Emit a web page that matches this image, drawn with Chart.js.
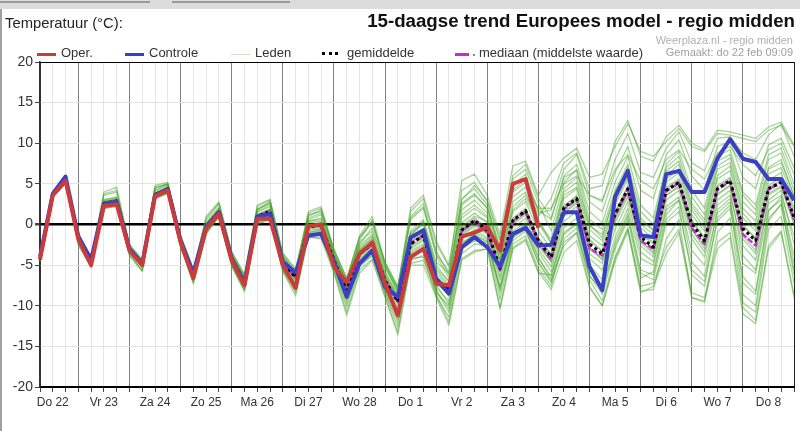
<!DOCTYPE html>
<html>
<head>
<meta charset="utf-8">
<script src="https://cdn.jsdelivr.net/npm/chart.js@4.4.1/dist/chart.umd.min.js"></script>
<style>
  body { margin: 0; background: #fff; font-family: Arial, "Liberation Sans", sans-serif; }
  #wrap { position: relative; width: 800px; height: 431px; overflow: hidden; background: #fff; }
  #chart { position: absolute; left: 0; top: 0; }
  .txt { position: absolute; white-space: nowrap; color: #222; }
  .topbar { position: absolute; left: 0; top: 0; width: 800px; height: 9px; background: #dcdcdc; }
  .tab { position: absolute; top: 1px; height: 2px; background: #9a9a9a; }
  .edge { position: absolute; left: 0; top: 9px; width: 2px; height: 422px; background: #a0a0a0; }
  .leg { position: absolute; top: 45px; font-size: 13px; color: #333; white-space: nowrap; }
  .sw { position: absolute; top: 8px; }
</style>
</head>
<body>
<div id="wrap">
  <canvas id="chart" width="800" height="431"></canvas>
  <div class="topbar"></div>
  <div class="tab" style="left:0;width:150px"></div>
  <div class="tab" style="left:172px;width:118px"></div>
  <div class="edge"></div>
  <div class="txt" style="left:5px;top:15px;font-size:14.8px;">Temperatuur (°C):</div>
  <div class="txt" style="right:5px;top:10px;font-size:18.7px;font-weight:bold;color:#111;">15-daagse trend Europees model - regio midden</div>
  <div class="txt" style="right:7px;top:34px;font-size:11px;color:#b0b0b0;">Weerplaza.nl - regio midden</div>
  <div class="txt" style="right:7px;top:46px;font-size:11px;color:#a0a0a0;">Gemaakt: do 22 feb 09:09</div>

  <div class="leg" style="left:37px"><span class="sw" style="left:0;width:19px;border-top:3px solid #cc3b3b"></span><span style="margin-left:24px">Oper.</span></div>
  <div class="leg" style="left:125px"><span class="sw" style="left:0;width:19px;border-top:3px solid #3a3fc4"></span><span style="margin-left:24px">Controle</span></div>
  <div class="leg" style="left:231px"><span class="sw" style="left:0;top:9px;width:19px;border-top:1px solid #c9e3bd"></span><span style="margin-left:24px">Leden</span></div>
  <div class="leg" style="left:322px"><span class="sw" style="left:0;top:7px;width:16px;border-top:3px dotted #000"></span><span style="margin-left:25px">gemiddelde</span></div>
  <div class="leg" style="left:455px"><span class="sw" style="left:0;width:14px;border-top:3px solid #c42ed0"></span><span class="sw" style="left:18px;top:9px;width:2px;height:2px;background:#888"></span><span style="margin-left:24px">mediaan (middelste waarde)</span></div>
</div>
<script>
// day names, one per calendar day shown on the x axis
const dayNames = ["Do 22", "Vr 23", "Za 24", "Zo 25", "Ma 26", "Di 27", "Wo 28", "Do 1",
  "Vr 2", "Za 3", "Zo 4", "Ma 5", "Di 6", "Wo 7", "Do 8", "Vr 9"];
const hours = ["00", "06", "12", "18"];
const yTicks = [-20, -15, -10, -5, 0, 5, 10, 15, 20];

// operational run (10 days only)
const oper = [-4.3, 3.6, 5.4, -1.8, -5.0, 2.3, 2.5, -3.2, -5.0, 3.5,
  4.2, -2.2, -6.6, -0.5, 1.3, -4.4, -7.5, 0.7, 0.7, -5.0,
  -7.8, -0.2, 0.0, -5.2, -7.1, -3.6, -2.2, -7.3, -11.2, -4.0,
  -3.0, -7.3, -7.5, -1.5, -1.0, -0.3, -3.2, 5.0, 5.6, -0.4];

// control run
const controle = [-4.0, 3.8, 5.9, -1.5, -4.3, 2.5, 2.8, -3.0, -4.8, 3.6,
  4.4, -2.0, -6.0, -0.3, 1.5, -4.2, -7.2, 1.0, 1.3, -4.6,
  -5.9, -1.35, -1.15, -4.6, -8.9, -4.8, -3.2, -7.7, -8.9, -1.6,
  -0.7, -6.7, -8.5, -2.8, -1.55, -2.8, -5.2, -1.15, -0.4, -2.6,
  -2.5, 1.5, 1.5, -5.2, -8.1, 3.4, 6.6, -1.35, -1.55, 6.2,
  6.6, 4.0, 4.0, 8.1, 10.5, 8.1, 7.7, 5.6, 5.6, 3.0];

// ensemble mean
const gemiddelde = [-4.3, 3.6, 5.3, -1.5, -4.6, 2.6, 2.9, -3.0, -4.9, 3.7,
  4.4, -2.0, -6.2, -0.3, 1.6, -4.2, -7.1, 1.0, 1.6, -4.7,
  -6.5, -0.3, -0.1, -4.4, -8.1, -3.6, -2.4, -6.9, -9.5, -2.4,
  -1.35, -6.7, -8.1, -0.7, 0.5, -0.7, -5.4, 0.5, 1.7, -2.0,
  -4.0, 2.1, 3.2, -2.4, -3.6, 1.3, 4.4, -1.55, -2.8, 4.2,
  5.2, 0.1, -2.0, 4.4, 5.4, -0.5, -2.0, 4.4, 5.2, 0.9];

// ensemble median
const mediaan = [-4.3, 3.6, 5.3, -1.5, -4.6, 2.6, 2.9, -3.0, -4.9, 3.7,
  4.4, -2.0, -6.2, -0.3, 1.6, -4.2, -7.1, 1.0, 1.6, -4.7,
  -6.5, -0.3, -0.1, -4.4, -8.1, -3.6, -2.4, -6.9, -9.5, -2.4,
  -1.4, -6.8, -8.2, -0.8, 0.4, -1.0, -5.6, 0.4, 1.6, -2.2,
  -4.3, 1.9, 3.1, -3.0, -3.8, 1.1, 4.3, -2.0, -3.0, 4.1,
  5.1, -0.4, -2.4, 4.3, 5.3, -1.2, -2.6, 4.3, 5.2, 0.6];

// ensemble members (leden)
const leden = [
  [-4.4, 3.5, 5.2, -1.7, -4.8, 2.4, 2.6, -3.2, -5.1, 3.5, 4.2, -2.2, -6.5, -0.6, 1.3, -4.6, -7.5, 0.6, 1.2, -5.2,
   -7.2, -0.9, -0.8, -5.0, -9.0, -4.4, -3.1, -7.6, -10.6, -3.2, -2.4, -7.8, -9.4, -1.8, -0.6, -1.6, -6.8, -0.8, 0.2, -3.4,
   -5.8, 0.4, 1.6, -4.2, -5.6, -0.6, 2.8, -3.4, -4.6, 2.2, 3.4, -1.8, -4.0, 2.4, 3.6, -2.6, -4.4, 2.6, 3.6, -1.4],
  [-4.2, 3.7, 5.4, -1.2, -4.3, 3.0, 3.3, -2.7, -4.6, 4.4, 5.0, -1.6, -5.8, 0.1, 2.0, -3.8, -6.6, 1.6, 2.4, -4.0,
   -5.8, 0.6, 1.2, -3.6, -7.0, -2.2, -0.8, -5.4, -8.0, -0.8, 0.6, -4.6, -6.0, 2.4, 3.6, 2.0, -2.6, 4.2, 5.6, 1.8,
   0.6, 6.0, 7.4, 2.8, 1.6, 6.4, 9.6, 4.2, 3.2, 8.6, 10.4, 6.0, 4.2, 9.6, 10.2, 5.8, 4.4, 9.8, 10.6, 7.0],
  [-4.4, 3.4, 5.1, -2.0, -5.0, 2.2, 2.4, -3.4, -5.3, 3.3, 4.0, -2.4, -6.8, -0.9, 1.0, -4.9, -7.8, 0.3, 0.8, -5.5,
   -7.8, -1.3, -1.2, -5.6, -10.2, -5.2, -3.8, -8.4, -12.6, -4.4, -3.8, -8.8, -11.4, -3.6, -2.4, -2.6, -9.2, -2.4, -1.4, -5.4,
   -7.6, -1.8, -0.4, -6.8, -9.4, -4.0, -0.4, -7.6, -7.2, -2.8, -0.6, -8.4, -9.0, -2.2, -1.0, -10.2, -11.8, -2.6, -0.8, -8.6],
  [-4.3, 3.6, 5.3, -1.4, -4.5, 2.8, 3.1, -2.9, -4.8, 3.9, 4.6, -1.8, -6.0, 0.0, 1.8, -4.0, -6.8, 1.8, 2.8, -4.4,
   -6.2, 1.0, 1.8, -3.2, -6.6, -1.6, 0.4, -4.8, -7.8, 1.6, 3.2, -2.4, -5.2, 5.4, 6.2, 3.6, -1.2, 7.2, 7.8, 3.6,
   6.4, 8.2, 9.4, 5.8, 6.2, 9.6, 12.4, 9.0, 8.4, 10.2, 11.8, 9.6, 9.0, 11.2, 11.0, 10.6, 10.2, 11.6, 12.2, 9.6],
  [-4.2, 3.6, 5.3, -1.3, -4.5, 2.9, 3.2, -2.8, -4.7, 3.8, 4.5, -1.9, -6.1, -0.1, 1.8, -3.9, -6.9, 1.2, 1.9, -4.3,
   -6.4, 0.2, 0.4, -4.0, -7.6, -3.0, -1.8, -6.2, -9.0, -1.8, -0.8, -6.0, -7.6, 0.2, 1.4, 0.2, -4.6, 1.6, 2.8, -0.8,
   -3.0, 3.2, 4.4, -1.4, -2.6, 2.4, 5.6, -0.4, -1.8, 5.2, 6.4, 1.2, -0.8, 5.6, 6.6, 0.8, -0.8, 5.4, 6.4, 2.0],
  [-4.4, 3.5, 5.2, -1.8, -4.9, 2.3, 2.6, -3.1, -5.0, 3.5, 4.3, -2.3, -6.5, -0.5, 1.4, -4.4, -7.4, 0.8, 1.4, -5.0,
   -6.8, -0.6, -0.4, -4.8, -8.6, -4.0, -2.8, -7.2, -9.8, -2.8, -1.8, -7.2, -8.6, -1.2, 0.0, -1.0, -5.8, 0.0, 1.2, -2.6,
   -4.6, 1.4, 2.6, -3.0, -4.2, 0.8, 4.0, -2.0, -3.4, 3.6, 4.8, -0.6, -2.6, 3.8, 4.8, -1.4, -3.2, 3.6, 4.6, 0.0],
  [-4.3, 3.6, 5.3, -1.6, -4.7, 2.5, 2.8, -3.1, -5.0, 3.6, 4.4, -2.0, -6.3, -0.4, 1.5, -4.3, -7.2, 0.9, 1.5, -4.9,
   -6.8, -0.2, -0.2, -4.6, -8.4, -3.8, -2.6, -7.4, -11.0, -3.4, -2.6, -8.0, -10.4, -2.6, -1.0, -1.8, -7.8, -1.6, -0.4, -4.2,
   -6.4, -0.4, 0.8, -5.4, -7.8, -2.2, 1.4, -5.6, -6.2, 0.6, 2.2, -6.2, -7.6, 0.8, 2.4, -8.6, -10.0, 0.4, 2.6, -6.2],
  [-4.2, 3.7, 5.4, -1.3, -4.4, 3.1, 3.4, -2.8, -4.6, 4.1, 4.8, -1.6, -5.9, 0.2, 2.2, -3.7, -6.5, 1.8, 2.6, -4.0,
   -5.9, 0.4, 0.8, -3.8, -7.2, -2.6, -1.2, -5.8, -8.6, -1.2, 0.0, -5.4, -7.0, 1.2, 2.4, 1.0, -3.8, 2.8, 4.0, 0.2,
   -1.8, 4.4, 5.8, 0.0, -1.6, 4.0, 7.0, 0.8, -0.8, 6.6, 7.8, 2.6, 0.6, 7.2, 8.2, 2.8, 1.2, 7.0, 8.0, 3.4],
  [-4.5, 3.4, 5.0, -2.2, -5.2, 2.1, 2.3, -3.6, -5.8, 3.2, 3.9, -2.6, -7.3, -1.0, 1.0, -5.0, -8.2, 0.1, 0.7, -5.7,
   -8.4, -1.2, -1.4, -5.8, -10.8, -5.6, -4.2, -8.8, -13.2, -4.8, -4.4, -8.6, -12.0, -4.2, -3.2, -3.0, -10.2, -2.8, -1.8, -5.8,
   -8.0, -3.4, -2.0, -7.8, -10.0, -4.6, -0.8, -8.4, -7.6, -3.6, -1.0, -9.0, -9.4, -3.0, -1.6, -11.0, -12.2, -3.0, -1.0, -9.0],
  [-4.3, 3.6, 5.3, -1.5, -4.6, 2.6, 2.9, -3.0, -4.9, 3.7, 4.4, -2.0, -6.2, -0.3, 1.6, -4.2, -7.1, 1.0, 1.6, -4.7,
   -6.5, -0.3, 0.0, -4.2, -8.0, -3.4, -2.0, -6.6, -9.4, -2.0, -1.0, -6.4, -8.0, -0.4, 0.8, -0.4, -5.2, 0.8, 2.0, -1.6,
   -3.6, 2.4, 3.4, -2.0, -3.2, 1.6, 4.6, -1.2, -2.4, 4.4, 5.4, 0.4, -1.8, 4.6, 5.6, -0.2, -1.6, 4.6, 5.4, 1.2],
  [-4.2, 3.7, 5.4, -1.1, -4.2, 4.0, 4.6, -2.6, -4.4, 4.8, 5.2, -1.4, -5.6, 1.0, 2.8, -3.4, -6.2, 2.4, 3.1, -3.6,
   -5.6, 1.4, 2.0, -3.0, -6.8, -1.4, 1.0, -4.6, -7.6, 2.0, 3.6, -2.0, -5.0, 4.2, 5.2, 2.8, -2.0, 5.6, 6.8, 2.6,
   -0.8, 5.2, 6.8, 1.6, 0.2, 5.2, 8.4, 2.4, 0.8, 7.4, 9.0, 4.2, 2.0, 8.4, 9.2, 4.0, 2.4, 8.6, 9.4, 5.0],
  [-4.4, 3.5, 5.2, -1.9, -5.0, 2.2, 2.5, -3.3, -5.2, 3.4, 4.1, -2.4, -6.7, -0.7, 1.2, -4.7, -7.6, 0.4, 1.0, -5.4,
   -7.4, -1.0, -0.6, -5.2, -9.4, -4.6, -3.4, -8.0, -11.6, -3.8, -3.2, -7.4, -9.8, -2.2, -1.4, -2.0, -8.4, -2.0, -0.8, -4.6,
   -7.0, -1.0, 0.2, -6.2, -8.6, -3.0, 0.6, -6.6, -5.8, 1.2, 3.0, -4.6, -6.4, 1.8, 3.2, -7.2, -8.6, 1.6, 3.4, -4.8],
  [-4.3, 3.6, 5.3, -1.4, -4.6, 2.7, 3.0, -2.9, -4.8, 3.8, 4.5, -1.9, -6.1, -0.2, 1.7, -4.1, -7.0, 1.1, 1.8, -4.5,
   -6.2, 0.0, 0.2, -4.2, -7.8, -3.2, -2.2, -6.4, -9.2, -2.2, -1.2, -6.6, -8.2, -0.2, 1.0, 0.4, -4.2, 1.8, 3.2, 0.2,
   -2.4, 3.6, 4.6, -0.6, -2.0, 2.8, 6.0, 0.0, -1.2, 5.6, 6.8, 1.8, -0.4, 6.0, 7.2, 1.4, -0.4, 6.2, 7.0, 3.0],
  [-4.2, 3.7, 5.4, -1.2, -4.4, 3.8, 4.2, -2.7, -4.5, 4.2, 4.9, -1.5, -5.7, 0.8, 2.6, -3.6, -6.4, 1.9, 2.7, -3.8,
   -6.0, 1.6, 2.2, -3.4, -7.4, -2.0, 0.6, -5.0, -8.2, 1.0, 2.6, -3.2, -6.2, 3.2, 4.4, 2.4, -3.2, 4.8, 6.2, 1.4,
   1.8, 6.8, 8.6, 3.6, 2.8, 8.0, 11.2, 6.4, 5.8, 9.4, 11.4, 7.6, 6.6, 10.6, 10.8, 8.8, 8.0, 11.0, 12.4, 8.4],
  [-4.4, 3.5, 5.2, -1.7, -4.8, 2.4, 2.7, -3.2, -5.1, 3.5, 4.2, -2.2, -6.4, -0.5, 1.4, -4.5, -7.4, 0.7, 1.3, -5.1,
   -7.0, -0.7, -0.6, -4.9, -8.8, -4.2, -3.0, -7.4, -10.2, -3.0, -2.0, -7.0, -8.8, -1.4, -0.2, -1.2, -6.4, -0.4, 0.8, -3.0,
   -5.2, 1.0, 2.2, -3.6, -4.8, 0.2, 3.4, -2.6, -4.0, 3.0, 4.2, -1.2, -3.4, 3.0, 4.2, -3.8, -5.6, 3.0, 4.2, -2.4],
  [-4.3, 3.6, 5.3, -1.5, -4.6, 2.7, 3.0, -2.9, -4.8, 3.7, 4.5, -1.9, -6.2, -0.2, 1.7, -4.1, -7.0, 1.2, 1.8, -4.6,
   -6.4, 0.4, 0.6, -3.8, -7.6, -2.8, -1.4, -6.0, -8.8, -1.0, 0.2, -5.6, -7.4, 0.8, 2.0, 0.8, -4.4, 2.2, 3.6, 0.6,
   -2.2, 4.0, 5.2, -0.2, -1.2, 3.4, 6.6, 0.4, -0.6, 6.0, 7.4, 2.2, 0.2, 6.8, 7.6, 2.0, 0.4, 6.8, 7.6, 3.6],
  [-4.3, 3.6, 5.3, -1.4, -4.5, 2.8, 3.1, -2.8, -4.7, 4.6, 5.0, -1.7, -6.0, 0.0, 1.9, -3.9, -6.7, 1.5, 2.2, -4.2,
   -6.2, 0.8, 1.4, -3.6, -7.2, -2.4, -0.4, -5.2, -8.4, 0.6, 2.0, -3.8, -6.6, 2.6, 3.8, 2.0, -3.6, 4.0, 5.2, 1.0,
   3.2, 7.6, 8.8, 4.4, 4.8, 10.2, 12.8, 8.4, 7.8, 10.8, 12.2, 10.0, 9.2, 11.6, 11.4, 11.0, 10.6, 12.0, 12.6, 9.8],
  [-4.5, 3.4, 5.1, -2.4, -5.3, 2.0, 2.2, -3.8, -5.6, 3.2, 3.8, -2.8, -7.0, -1.2, 1.0, -5.2, -8.2, 0.0, 0.6, -5.8,
   -8.8, -1.5, -1.8, -6.0, -11.2, -6.0, -4.4, -9.0, -13.6, -5.0, -5.0, -9.0, -12.4, -4.4, -3.4, -3.0, -10.4, -3.0, -2.0, -6.0,
   -6.2, -1.2, 0.0, -5.0, -6.8, -1.6, 2.0, -4.2, -5.0, 1.8, 3.0, -3.2, -5.0, 1.4, 2.8, -4.8, -6.0, 1.8, 3.0, -3.8],
  [-4.3, 3.5, 5.2, -1.6, -4.7, 2.5, 2.8, -3.1, -5.0, 3.6, 4.3, -2.1, -6.3, -0.4, 1.5, -4.3, -7.2, 0.9, 1.5, -4.8,
   -6.6, -0.4, -0.3, -4.6, -8.2, -3.8, -2.6, -7.0, -9.6, -2.6, -1.6, -6.9, -8.4, -1.0, 0.2, -0.9, -5.8, 0.2, 1.4, -2.4,
   -4.6, 1.6, 2.8, -2.8, -4.4, 0.6, 3.8, -2.2, -3.6, 3.6, 4.6, -0.6, -3.0, 3.6, 4.8, -1.8, -3.6, 3.8, 4.8, 0.2],
  [-4.2, 3.7, 5.5, -1.0, -4.2, 3.6, 4.0, -2.4, -4.3, 4.5, 5.0, -1.3, -5.5, 0.5, 2.6, -3.3, -6.2, 2.2, 3.0, -3.5,
   -5.5, 1.2, 1.6, -3.0, -6.8, -1.6, 0.2, -4.8, -7.8, 0.8, 2.2, -3.6, -5.8, 3.0, 4.8, 3.0, -1.8, 6.0, 7.4, 3.2,
   0.8, 5.8, 6.6, 0.6, -0.6, 4.2, 7.4, 1.6, 0.0, 7.0, 8.4, 3.4, 1.2, 7.8, 8.6, 3.6, 1.8, 8.0, 8.8, 4.2],
  [-4.5, 3.4, 5.1, -2.6, -5.2, 2.0, 2.3, -3.8, -5.7, 3.2, 3.9, -2.7, -7.2, -1.1, 1.0, -5.0, -8.0, 0.2, 0.8, -5.6,
   -8.2, -1.6, -1.6, -5.4, -9.8, -5.0, -3.8, -8.4, -12.0, -4.2, -4.0, -8.2, -10.8, -3.0, -2.0, -2.2, -8.0, -1.6, -0.6, -4.8,
   -7.2, -2.2, -1.0, -6.4, -8.0, -2.6, 1.0, -6.0, -6.8, 0.2, 1.6, -5.6, -7.0, 0.4, 2.0, -6.4, -8.2, 0.8, 2.4, -5.6],
  [-4.3, 3.6, 5.3, -1.3, -4.4, 2.8, 3.0, -2.9, -4.8, 3.8, 4.5, -1.8, -6.0, -0.2, 1.8, -4.0, -7.0, 1.2, 1.9, -4.5,
   -6.3, -0.1, 0.1, -4.2, -8.2, -3.4, -2.2, -6.8, -9.2, -2.2, -1.2, -6.4, -7.8, -0.6, 0.6, -0.6, -5.0, 0.6, 1.8, -1.8,
   -3.8, 2.2, 3.6, -1.8, -3.4, 1.4, 4.8, -1.0, -2.2, 4.6, 5.6, 0.6, -1.6, 4.8, 5.8, 0.0, -1.8, 4.8, 5.8, 1.6],
  [-4.3, 3.6, 5.2, -1.5, -4.7, 2.6, 2.8, -3.0, -4.9, 3.6, 4.4, -2.0, -6.3, -0.4, 1.5, -4.2, -7.2, 1.0, 1.6, -4.8,
   -6.6, -0.2, 0.2, -4.4, -8.0, -3.2, -1.6, -6.4, -9.0, -1.4, 0.4, -5.0, -7.0, 1.8, 3.0, 1.4, -3.0, 3.4, 4.6, 2.0,
   2.0, 5.0, 6.0, 3.6, 3.0, 6.8, 8.6, 5.4, 4.4, 8.0, 9.2, 6.8, 5.6, 8.8, 9.6, 7.4, 6.0, 9.2, 10.0, 6.2],
  [-4.4, 3.5, 5.2, -1.9, -4.9, 2.3, 2.6, -3.3, -5.2, 3.4, 4.1, -2.3, -6.6, -0.6, 1.3, -4.6, -7.6, 0.6, 1.1, -5.3,
   -7.4, -1.1, -0.9, -5.2, -9.2, -4.6, -3.2, -7.8, -10.8, -3.6, -2.8, -8.4, -10.0, -2.4, -1.2, -2.2, -7.6, -1.2, 0.0, -4.0,
   -6.8, -2.6, -1.0, -7.6, -10.0, -4.2, -0.6, -8.2, -8.0, -1.8, 0.6, -9.0, -9.6, -1.0, 0.8, -9.6, -10.8, -0.6, 1.0, -7.2]
];

// time labels every 6 hours, starting Do 22 06:00 and ending Vr 9 00:00
const timeLabels = [];
dayNames.forEach((day, d) => {
  hours.forEach((h, k) => {
    if (d === 0 && k === 0) return;
    if (d === dayNames.length - 1 && k > 0) return;
    timeLabels.push(day + " " + h + ":00");
  });
});

// day label only at noon
function tickText(index) {
  const lbl = timeLabels[index];
  return lbl.endsWith(" 12:00") ? lbl.replace(" 12:00", "") : "";
}

const datasets = [
  { label: "Oper.", data: oper, borderColor: "#cc3b3b", borderWidth: 4, order: 0 },
  { label: "Controle", data: controle, borderColor: "#3a3fc4", borderWidth: 4, order: 1 },
  { label: "gemiddelde", data: gemiddelde, borderColor: "#000", borderWidth: 3, borderDash: [3, 3], order: 2 },
  { label: "mediaan", data: mediaan, borderColor: "#c42ed0", borderWidth: 2.5, borderDash: [6, 2], order: 3 }
];
leden.forEach((member, i) => {
  datasets.push({ label: "Leden " + (i + 1), data: member, borderColor: "rgba(62,160,32,0.45)", borderWidth: 1.3, order: 10 });
});

const ctx = document.getElementById("chart").getContext("2d");
new Chart(ctx, {
  type: "line",
  data: { labels: timeLabels, datasets: datasets },
  options: {
    responsive: false,
    animation: false,
    events: [],
    layout: { padding: { top: 62, right: 6, left: 0, bottom: 0 } },
    elements: { point: { radius: 0 }, line: { tension: 0, fill: false, borderCapStyle: "butt", borderJoinStyle: "round" } },
    plugins: { legend: { display: false }, tooltip: { enabled: false }, title: { display: false } },
    scales: {
      x: {
        type: "category",
        offset: false,
        afterFit: (scale) => { scale.height = 44; },
        border: { display: true, color: "#000", width: 2 },
        grid: {
          color: (c) => c.index === 0 ? "#333" : (c.index === timeLabels.length - 1 ? "#222" : (c.index % 4 === 3 ? "#808080" : "#e6e6e6")),
          lineWidth: 1,
          drawTicks: true,
          tickLength: 5,
          tickColor: "#444"
        },
        ticks: {
          autoSkip: false,
          maxRotation: 0,
          padding: 3,
          color: "#333",
          font: { family: "Arial, 'Liberation Sans', sans-serif", size: 12 },
          callback: (value, index) => tickText(index)
        }
      },
      y: {
        min: yTicks[0],
        max: yTicks[yTicks.length - 1],
        afterFit: (scale) => { scale.width = 40; },
        afterBuildTicks: (scale) => { scale.ticks = yTicks.map((v) => ({ value: v })); },
        border: { display: true, color: "#333", width: 1.5 },
        grid: {
          color: (c) => (c.tick.value === 0 || c.tick.value === 20) ? "#000" : "#e2e2e2",
          lineWidth: (c) => c.tick.value === 0 ? 2.5 : 1,
          drawTicks: true,
          tickLength: 5,
          tickColor: "#444"
        },
        ticks: {
          padding: 2,
          color: "#333",
          font: { family: "Arial, 'Liberation Sans', sans-serif", size: 14 }
        }
      }
    }
  }
});
</script>
</body>
</html>
